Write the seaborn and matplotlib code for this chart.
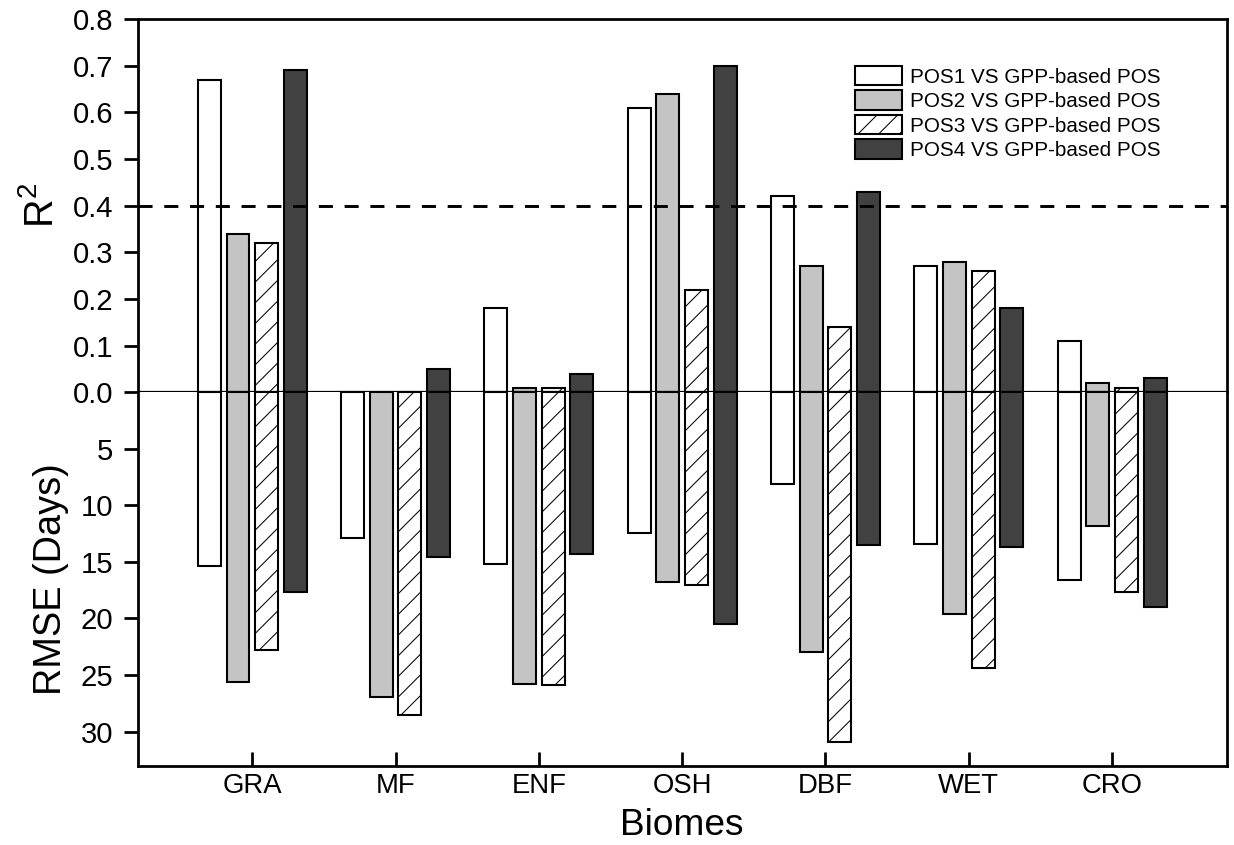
import numpy as np
import pandas as pd
import matplotlib
matplotlib.use('Agg')
import matplotlib.pyplot as plt
import seaborn as sns

# ---- data ----
biomes = ['GRA', 'MF', 'ENF', 'OSH', 'DBF', 'WET', 'CRO']
series = ['POS1 VS GPP-based POS', 'POS2 VS GPP-based POS',
          'POS3 VS GPP-based POS', 'POS4 VS GPP-based POS']
r2_pos1 = [0.67, 0.00, 0.18, 0.61, 0.42, 0.27, 0.11]
r2_pos2 = [0.34, 0.00, 0.01, 0.64, 0.27, 0.28, 0.02]
r2_pos3 = [0.32, 0.00, 0.01, 0.22, 0.14, 0.26, 0.01]
r2_pos4 = [0.69, 0.05, 0.04, 0.70, 0.43, 0.18, 0.03]
rmse_pos1 = [15.4, 12.9, 15.2, 12.4, 8.1, 13.4, 16.6]
rmse_pos2 = [25.6, 26.9, 25.8, 16.8, 23.0, 19.6, 11.8]
rmse_pos3 = [22.8, 28.5, 25.9, 17.0, 30.9, 24.4, 17.7]
rmse_pos4 = [17.7, 14.6, 14.3, 20.5, 13.5, 13.7, 19.0]
r2_ticks = [0.0, 0.1, 0.2, 0.3, 0.4, 0.5, 0.6, 0.7, 0.8]
rmse_ticks = [5, 10, 15, 20, 25, 30]

colors = ['#ffffff', '#c4c4c4', '#ffffff', '#414141']
hatches = ['', '', '//', '']

r2_all = [r2_pos1, r2_pos2, r2_pos3, r2_pos4]
rmse_all = [rmse_pos1, rmse_pos2, rmse_pos3, rmse_pos4]
df = pd.DataFrame({
    'biome': np.tile(biomes, len(series)),
    'series': np.repeat(series, len(biomes)),
    'r2': np.concatenate(r2_all),
    'rmse': np.concatenate(rmse_all),
})

sns.set_style('white')
plt.rcParams['font.family'] = ['Liberation Sans', 'DejaVu Sans']
plt.rcParams['mathtext.fontset'] = 'custom'
plt.rcParams['mathtext.rm'] = 'Liberation Sans'
plt.rcParams['mathtext.it'] = 'Liberation Sans:italic'
plt.rcParams['text.color'] = 'black'
plt.rcParams['axes.labelcolor'] = 'black'
plt.rcParams['xtick.color'] = 'black'
plt.rcParams['ytick.color'] = 'black'
plt.rcParams['hatch.linewidth'] = 0.6

DPI = 124
W, H = 1234, 845
fig = plt.figure(figsize=(W / DPI, H / DPI), dpi=DPI, facecolor='white')

left, right = 137.7, 1226.7
top, mid, bot = 19.0, 392.3, 765.5
ax1 = fig.add_axes([left / W, (H - mid) / H, (right - left) / W, (mid - top) / H])
ax2 = fig.add_axes([left / W, (H - bot) / H, (right - left) / W, (bot - mid) / H])

common = dict(x='biome', hue='series', order=biomes, hue_order=series,
              palette=colors, saturation=1, width=0.8, gap=0.2,
              edgecolor='black', linewidth=1.2, errorbar=None, legend=False)
sns.barplot(data=df, y='r2', ax=ax1, **common)
sns.barplot(data=df, y='rmse', ax=ax2, **common)

for ax in (ax1, ax2):
    for cont, h in zip(ax.containers, hatches):
        for p in cont.patches:
            p.set_hatch(h)
    ax.set_xlim(-0.8, 6.8)
    for s in ax.spines.values():
        s.set_linewidth(1.6)
        s.set_color('black')
    ax.set_facecolor('white')

ax1.set_ylim(0, 0.8)
ax2.set_ylim(33, 0)
ax1.spines['bottom'].set_visible(False)
ax2.spines['top'].set_visible(False)

ax1.set_yticks(r2_ticks)
ax1.set_yticklabels([f'{v:.1f}' for v in r2_ticks])
ax2.set_yticks(rmse_ticks)
ax2.set_yticklabels([str(v) for v in rmse_ticks])

ax1.tick_params(axis='x', bottom=False, labelbottom=False)
ax1.tick_params(axis='y', left=True, direction='out', length=8.1, width=1.6,
                labelsize=17, pad=6)
ax2.tick_params(axis='y', left=True, direction='out', length=8.1, width=1.6,
                labelsize=17, pad=6)
ax2.tick_params(axis='x', bottom=True, direction='in', length=8.1, width=1.6,
                labelsize=16, pad=4.6)

ax1.axhline(0, color='black', lw=1.3, zorder=6, clip_on=False)
ax1.axhline(0.4, color='black', lw=1.7, dashes=(4.8, 4.0), zorder=6)

ax1.set_xlabel('')
ax1.set_ylabel('R$^{2}$', fontsize=23)
ax1.yaxis.set_label_coords(-0.0701, 0.5)
ax2.set_ylabel('RMSE (Days)', fontsize=22)
ax2.yaxis.set_label_coords(-0.0634, 0.5)
ax2.set_xlabel('Biomes', fontsize=21.5)
ax2.xaxis.set_label_coords(0.5, -0.1139)

handles = [ax1.containers[i] for i in range(len(series))]
ax1.legend(handles, series, loc='upper left',
           bbox_to_anchor=((855 - left) / (right - left), (mid - 66) / (mid - top)),
           frameon=False, fontsize=12, handlelength=2.27, handleheight=1.07,
           labelspacing=0.18, handletextpad=0.37, borderpad=0, borderaxespad=0)

fig.savefig('out.png', dpi=DPI, facecolor='white')
